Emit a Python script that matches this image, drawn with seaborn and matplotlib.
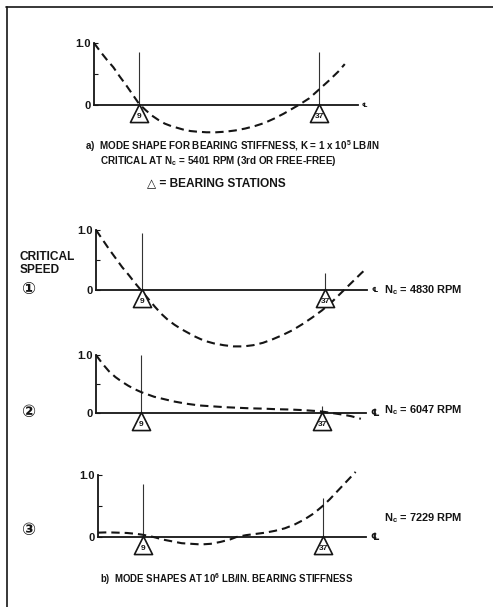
import numpy as np
import pandas as pd
import matplotlib
matplotlib.use("Agg")
import matplotlib.pyplot as plt
import seaborn as sns
from matplotlib.lines import Line2D
from matplotlib.transforms import offset_copy

sns.set_theme(style="white")
FONTS = ['Liberation Sans', 'DejaVu Sans', 'Noto Sans CJK JP']
plt.rcParams['font.family'] = FONTS
plt.rcParams['font.weight'] = 'bold'
plt.rcParams['mathtext.fontset'] = 'custom'
plt.rcParams['mathtext.rm'] = 'Liberation Sans:bold'
plt.rcParams['mathtext.it'] = 'Liberation Sans:bold'
plt.rcParams['mathtext.bf'] = 'Liberation Sans:bold'

# ---------------- data ----------------
bearing_stations = [9, 37]
bearing_labels = ["9", "37"]

stations_a = [2, 3, 4, 5, 6, 7, 8, 9, 10, 11, 12, 13, 14, 15, 16, 17, 18, 19.5,
              21, 22.5, 24, 25.5, 27, 28.5, 30, 31.5, 33, 34, 35.5, 37, 38.5, 40, 41]
mode_a = [1.00, 0.86, 0.73, 0.61, 0.46, 0.32, 0.17, 0.02, -0.08, -0.17, -0.24, -0.30,
          -0.34, -0.37, -0.40, -0.42, -0.43, -0.44, -0.44, -0.43, -0.41, -0.38, -0.34,
          -0.29, -0.22, -0.14, -0.05, 0.01, 0.11, 0.25, 0.39, 0.54, 0.66]

stations_b1 = [2, 3, 4, 5, 6, 7, 8, 9, 10, 11, 12, 13, 14, 15, 16, 17, 18, 19, 20,
               21.5, 23, 24.5, 26, 27.5, 29, 30.5, 32, 33.5, 35, 36.5, 38, 39.5, 41,
               42.5, 43]
mode_b1 = [1.00, 0.84, 0.68, 0.53, 0.38, 0.25, 0.11, -0.02, -0.15, -0.28, -0.40,
           -0.50, -0.58, -0.65, -0.71, -0.77, -0.82, -0.86, -0.89, -0.92, -0.94,
           -0.94, -0.92, -0.88, -0.82, -0.75, -0.67, -0.57, -0.46, -0.34, -0.20,
           -0.04, 0.12, 0.28, 0.33]

stations_b2 = [2, 3, 4, 5, 6, 7, 8, 9, 10, 11, 12.5, 14, 16, 18, 20, 22, 24, 26, 28,
               30, 32, 34, 36, 37, 38.5, 40, 41.5, 43]
mode_b2 = [1.00, 0.85, 0.72, 0.62, 0.54, 0.47, 0.41, 0.36, 0.32, 0.28, 0.24, 0.20,
           0.16, 0.13, 0.115, 0.10, 0.09, 0.08, 0.075, 0.065, 0.06, 0.05, 0.035,
           0.025, 0.0, -0.025, -0.055, -0.10]

stations_b3 = [2, 3.5, 5, 6.5, 8, 9, 10, 11, 12, 13.5, 15, 16.5, 18, 19.5, 21, 22.5,
               23.5, 25, 26.5, 28, 29.5, 31, 32.5, 34, 35.5, 37, 38, 39, 40, 41, 42]
mode_b3 = [0.07, 0.075, 0.07, 0.065, 0.05, 0.035, 0.015, -0.01, -0.04, -0.07, -0.10,
           -0.11, -0.12, -0.11, -0.08, -0.04, 0.0, 0.03, 0.05, 0.07, 0.10, 0.14, 0.20,
           0.28, 0.38, 0.51, 0.61, 0.72, 0.83, 0.94, 1.05]

speed_labels = ["N$_c$ = 4830 RPM", "N$_c$ = 6047 RPM", "N$_c$ = 7229 RPM"]
speed_marks = ["\u2460", "\u2461", "\u2462"]

caption_a1 = "a)  MODE SHAPE FOR BEARING STIFFNESS, K = 1 x 10$^5$ LB/IN"
caption_a2 = "CRITICAL AT N$_c$ = 5401 RPM (3rd OR FREE-FREE)"
caption_legend = "\u25b3 = BEARING STATIONS"
caption_b = "b)  MODE SHAPES AT 10$^6$ LB/IN. BEARING STIFFNESS"

INK = "#151515"
W, H = 493, 607
fig = plt.figure(figsize=(W / 100, H / 100), dpi=100)
fig.patch.set_facecolor("white")


def px(x, y):
    return x / W, 1 - y / H


def make_axes(top, bottom, zero_px, unit_px, x0_px, px_per_st):
    ax = fig.add_axes([0, 1 - bottom / H, 1, (bottom - top) / H])
    ax.set_xlim(2 - x0_px / px_per_st, 2 + (W - x0_px) / px_per_st)
    ax.set_ylim((zero_px - bottom) / unit_px, (zero_px - top) / unit_px)
    ax.patch.set_alpha(0)
    return ax


def draw_panel(ax, st, mode, x_end, line_tops, end_sym, end_size):
    df = pd.DataFrame({"station": st, "mode": mode})
    sns.lineplot(data=df, x="station", y="mode", ax=ax, color=INK, lw=1.5,
                 sort=False, estimator=None)
    ax.lines[-1].set_dashes([4.0, 2.4])
    for s in ["top", "right"]:
        ax.spines[s].set_visible(False)
    ax.spines["left"].set_position(("data", 2))
    ax.spines["left"].set_bounds(0, 1)
    ax.spines["bottom"].set_position(("data", 0))
    ax.spines["bottom"].set_bounds(2, x_end)
    for s in ["left", "bottom"]:
        ax.spines[s].set_color(INK)
        ax.spines[s].set_linewidth(1.3)
    ax.set_xticks([])
    ax.set_yticks([0, 0.5, 1.0])
    ax.set_yticklabels(["0", "", "1.0"])
    ax.tick_params(axis="y", direction="in", length=3, width=0.8, pad=2,
                   labelsize=8, colors=INK, left=True)
    ax.set_xlabel("")
    ax.set_ylabel("")
    ax.vlines(bearing_stations, 0, line_tops, color="#333333", lw=0.8, zorder=1)
    tri_tr = offset_copy(ax.transData, fig=fig, y=-8.3, units="dots")
    ax.scatter(bearing_stations, [0, 0], marker="^", s=170, facecolor="white",
               edgecolor=INK, linewidth=1.2, transform=tri_tr, zorder=5)
    num_tr = offset_copy(ax.transData, fig=fig, y=-11.5, units="dots")
    for s, lab in zip(bearing_stations, bearing_labels):
        ax.text(s, 0, lab, transform=num_tr, ha="center", va="center",
                fontsize=6, fontweight="bold", color=INK, zorder=6)
    end_tr = offset_copy(ax.transData, fig=fig, x=4, units="dots")
    ax.text(x_end, 0, end_sym, transform=end_tr, ha="left", va="center",
            fontsize=end_size, color=INK, family=['DejaVu Sans', 'Noto Sans CJK JP'])


ax_a = make_axes(30, 140, 105, 62, 94, 6.43)
draw_panel(ax_a, stations_a, mode_a, 43.0, [0.86, 0.86], "\u2104", 4.5)

ax_b1 = make_axes(215, 355, 290, 60, 96, 6.55)
draw_panel(ax_b1, stations_b1, mode_b1, 43.4, [0.95, 0.29], "\u2104", 5)

ax_b2 = make_axes(345, 440, 413, 58, 96, 6.46)
draw_panel(ax_b2, stations_b2, mode_b2, 43.8, [1.0, 0.12], "\u2104", 7)

ax_b3 = make_axes(460, 560, 537, 62, 98, 6.44)
draw_panel(ax_b3, stations_b3, mode_b3, 43.6, [0.85, 0.63], "\u2104", 7)

# captions
fig.text(*px(85, 146.5), caption_a1, fontsize=7.1, color=INK, va="center", ha="left")
fig.text(*px(100, 160.5), caption_a2, fontsize=7.1, color=INK, va="center", ha="left")
fig.text(*px(147, 183), caption_legend, fontsize=8.6, color=INK, va="center", ha="left",
         family=['Liberation Sans', 'DejaVu Sans'])
fig.text(*px(100, 579), caption_b, fontsize=6.9, color=INK, va="center", ha="left")

fig.text(*px(20, 257), "CRITICAL", fontsize=8.6, color=INK, va="center", ha="left")
fig.text(*px(20, 270), "SPEED", fontsize=8.6, color=INK, va="center", ha="left")

mark_y = [289, 412, 530]
speed_y = [290, 410, 518]
for m, yv in zip(speed_marks, mark_y):
    fig.text(*px(28, yv), m, fontsize=12, color=INK, va="center", ha="center",
             family=['DejaVu Sans', 'Noto Sans CJK JP'])
for lab, yv in zip(speed_labels, speed_y):
    fig.text(*px(384, yv), lab, fontsize=7.9, color=INK, va="center", ha="left")

# page frame
fig.add_artist(Line2D([6 / W, 1], [1 - 7 / H, 1 - 7 / H], color=INK, lw=1.2,
                      transform=fig.transFigure))
fig.add_artist(Line2D([7 / W, 7 / W], [0, 1 - 7 / H], color=INK, lw=1.2,
                      transform=fig.transFigure))

fig.savefig("out.png", dpi=100, facecolor="white")
